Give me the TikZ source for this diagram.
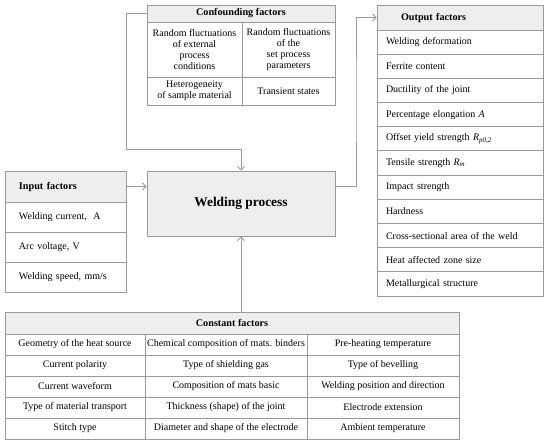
\documentclass[tikz,border=0pt]{standalone}
\usepackage{fontspec}
\setmainfont{Liberation Serif}
\usepackage{xcolor}
\usetikzlibrary{arrows.meta}
\definecolor{linegray}{HTML}{9A9A9A}
\definecolor{hdrgray}{HTML}{EEEEEE}
\tikzset{
  cell/.style={draw=linegray, line width=0.9pt, rectangle, inner sep=0pt,
    font=\fontsize{10}{10.8}\selectfont, align=center},
  lcell/.style={cell, align=left, inner xsep=9pt},
  hdr/.style={cell, fill=hdrgray, font=\fontsize{10.2}{12}\selectfont\bfseries},
  link/.style={draw=linegray, line width=0.9pt, ->},
}
\begin{document}
\begin{tikzpicture}[x=1pt,y=-1pt,>={Straight Barb[length=3.5pt,width=7pt]}]
\useasboundingbox (0,0) rectangle (550,445);

% Confounding factors
\node[hdr, minimum width=188, minimum height=17] (confhead) at (241,13.5) {Confounding factors};
\node[cell, minimum width=95, minimum height=55] (conf1) at (194.5,49.5)
  {Random fluctuations\\of external\\process\\conditions};
\node[cell, minimum width=93, minimum height=55] (conf2) at (288.5,49.5)
  {Random fluctuations\\of the\\set process\\parameters};
\node[cell, minimum width=95, minimum height=28] (conf3) at (194.5,91)
  {Heterogeneity\\of sample material};
\node[cell, minimum width=93, minimum height=28] (conf4) at (288.5,91) {Transient states};

% Output factors
\node[hdr, align=left, inner xsep=24pt, text width=118, minimum height=25] (outhead) at (460,17.5) {Output factors};
\foreach \t [count=\i] in {Welding deformation, Ferrite content, Ductility of the joint,
  {Percentage elongation \textit{A}},
  {Offset yield strength \textit{R}\textsubscript{\textit{p0,2}}},
  {Tensile strength \textit{R}\textsubscript{\textit{m}}},
  Impact strength, Hardness, Cross-sectional area of the weld,
  Heat affected zone size, Metallurgical structure}
  \node[lcell, text width=148, minimum height=24.18] (out\i) at (460,{30+24.18*(\i-0.5)}) {\t};

% Input factors
\node[hdr, align=left, inner xsep=14pt, text width=93, minimum height=31] (inhead) at (65.5,186.5) {Input factors};
\foreach \t [count=\i] in {{Welding current,~ A}, {Arc voltage, V}, {Welding speed, mm/s}}
  \node[lcell, inner xsep=14pt, text width=93, minimum height=30] (in\i) at (65.5,{202+30*(\i-0.5)}) {\t};

% Welding process
\node[hdr, minimum width=188, minimum height=65, font=\fontsize{13.4}{15}\selectfont\bfseries] (weld) at (241,203.5) {Welding process};

% Constant factors
\node[hdr, minimum width=454, minimum height=22] (consthead) at (232,323) {Constant factors};
\foreach \a/\b/\c [count=\i] in {
  Geometry of the heat source/Chemical composition of mats. binders/Pre-heating temperature,
  Current polarity/Type of shielding gas/Type of bevelling,
  Current waveform/Composition of mats basic/Welding position and direction,
  Type of material transport/Thickness (shape) of the joint/Electrode extension,
  Stitch type/Diameter and shape of the electrode/Ambient temperature}
{
  \node[cell, minimum width=140, minimum height=21] (cA\i) at (75,{334+21*(\i-0.5)}) {\a};
  \node[cell, minimum width=162, minimum height=21] (cB\i) at (226,{334+21*(\i-0.5)}) {\b};
  \node[cell, minimum width=152, minimum height=21] (cC\i) at (383,{334+21*(\i-0.5)}) {\c};
}

% Connections
\coordinate (bendA) at (126,149);
\coordinate (bendB) at (356,100);
\draw[link] (confhead.west) -| (bendA) -| (weld.north);
\draw[link] (inhead.east) -- (inhead.east -| weld.west);
\draw[link] (weld.east |- inhead.east) -| (bendB) |- (outhead.west);
\draw[link] (weld.south |- consthead.north) -- (weld.south);
\end{tikzpicture}
\end{document}
